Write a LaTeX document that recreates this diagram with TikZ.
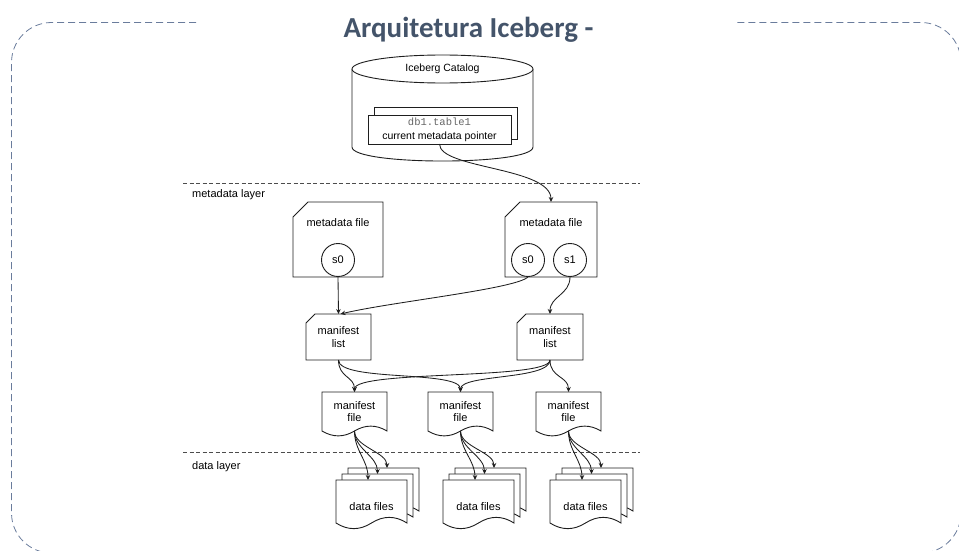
\documentclass[tikz,border=0pt]{standalone}
\usepackage{fontspec}
\setmainfont{Liberation Sans}
\newfontfamily\titlefont{Carlito}
\newfontfamily\codefont{Liberation Mono}
\usetikzlibrary{arrows.meta,calc}
\definecolor{titleblue}{HTML}{44546A}
\definecolor{framecol}{HTML}{6A7C9C}
\definecolor{inkcol}{HTML}{1E1E1E}
\tikzset{
  boxarea/.style={rectangle, inner sep=0pt, outer sep=0pt, align=center, font=\fontsize{11}{12.5}\selectfont},
  shp/.style={draw=inkcol, line width=0.9pt, fill=white},
  snap/.style={circle, draw=inkcol, line width=0.9pt, fill=white, minimum size=33pt, inner sep=0pt, font=\fontsize{11}{12.5}\selectfont},
  conn/.style={draw=inkcol, line width=0.85pt, -{Stealth[length=5pt,width=4.5pt]}},
  sep/.style={draw=gray!60!black, line width=0.9pt, dash pattern=on 4pt off 2.5pt},
  lbl/.style={inner sep=0pt, anchor=west, font=\fontsize{11}{12.5}\selectfont},
}
\newcommand{\cardshape}[2]{\draw[shp] ([xshift=#2pt]#1.north west) -- (#1.north east) -- (#1.south east) -- (#1.south west) -- ([yshift=-#2pt]#1.north west) -- cycle;}
\newcommand{\docshape}[2]{\draw[shp] (#1.north west) -- (#1.north east) -- (#1.south east)
  .. controls ($(#1.south east)!0.333!(#1.south)+(0,-#2)$) and ($(#1.south east)!0.667!(#1.south)+(0,-#2)$) .. (#1.south)
  .. controls ($(#1.south)!0.333!(#1.south west)+(0,#2)$) and ($(#1.south)!0.667!(#1.south west)+(0,#2)$) .. (#1.south west) -- cycle;}
\begin{document}
\begin{tikzpicture}[x=1pt,y=-1pt]
\useasboundingbox (0,0) rectangle (959,551);
% frame
\draw[framecol, line width=0.8pt, dash pattern=on 7pt off 4pt, rounded corners=40pt]
  (196,22.5) -- (11.5,22.5) -- (11.5,553) -- (961,553) -- (961,22.5) -- (735,22.5);
\node[anchor=base, text=titleblue, font=\titlefont\bfseries\fontsize{29}{32}\selectfont, inner sep=0pt] (title) at (468.5,38) {Arquitetura Iceberg -};
% catalog cylinder
\node[boxarea, minimum width=181pt, minimum height=106pt] (cat) at (442.5,108) {};
\draw[shp] (cat.west |- 0,69) -- (cat.west |- 0,147) .. controls +(0,18.7) and +(0,18.7) .. (cat.east |- 0,147) -- (cat.east |- 0,69);
\draw[shp] (442.5,69) ellipse [x radius=90.5, y radius=14];
\node[inner sep=0pt, font=\fontsize{10.5}{12}\selectfont] (catt) at (442.5,69) {Iceberg Catalog};
\node[boxarea, minimum width=143pt, minimum height=32pt] (ptrb) at (445.5,123) {};
\draw[shp] (ptrb.north west) rectangle (ptrb.south east);
\node[boxarea, minimum width=143pt, minimum height=29pt, fill=white, draw=inkcol, line width=0.9pt, font=\fontsize{10.5}{14}\selectfont] (ptr) at (439.5,129.5) {{\codefont\color{gray!80!black}db1.table1}\\current metadata pointer};
% separators
\coordinate (s1a) at (183,183); \coordinate (s1b) at (640,183);
\coordinate (s2a) at (183,452); \coordinate (s2b) at (640,452);
\draw[sep] (s1a) -- (s1b);
\draw[sep] (s2a) -- (s2b);
\node[lbl] (mdl) at (192,195) {metadata layer};
\node[lbl] (dl) at (192,467) {data layer};
% metadata files
\node[boxarea, minimum width=90pt, minimum height=75pt] (md1) at (338,239.5) {};
\node[boxarea, minimum width=92pt, minimum height=75pt] (md2) at (551,239.5) {};
\cardshape{md1}{15}
\cardshape{md2}{15}
\node[inner sep=0pt, font=\fontsize{11}{12.5}\selectfont] (md1t) at (338,223) {metadata file};
\node[inner sep=0pt, font=\fontsize{11}{12.5}\selectfont] (md2t) at (551,223) {metadata file};
\node[snap] (m1s0) at (338,260) {s0};
\node[snap] (m2s0) at (528,260) {s0};
\node[snap] (m2s1) at (570,260) {s1};
% manifest lists
\node[boxarea, minimum width=65pt, minimum height=46pt] (ml1) at (338.5,337) {};
\node[boxarea, minimum width=66pt, minimum height=46pt] (ml2) at (550,337) {};
\cardshape{ml1}{9}
\cardshape{ml2}{9}
\node[boxarea] (ml1t) at (ml1) {manifest\\list};
\node[boxarea] (ml2t) at (ml2) {manifest\\list};
% manifest files
\foreach \n/\x in {mf1/354.5, mf2/460.5, mf3/568.5}{
  \node[boxarea, minimum width=65pt, minimum height=39pt] (\n) at (\x,411.5) {};
  \docshape{\n}{6.5}
  \node[boxarea] (\n t) at (\x,411.5) {manifest\\file};
}
% data files
\foreach \k/\x in {1/371.5, 2/478.5, 3/585.5}{
  \node[boxarea, minimum width=71pt, minimum height=43pt] (df\k a) at (\x+12,489.5) {};
  \node[boxarea, minimum width=71pt, minimum height=43pt] (df\k b) at (\x+6,495.5) {};
  \node[boxarea, minimum width=71pt, minimum height=43pt] (df\k c) at (\x,501.5) {};
  \docshape{df\k a}{7.5}
  \docshape{df\k b}{7.5}
  \docshape{df\k c}{7.5}
  \node[boxarea] (df\k t) at (\x,507) {data files};
}
% connectors
\draw[conn] (ptr.south) .. controls +(0,25) and +(0,-35) .. (md2.north);
\draw[conn] (m1s0.south) -- (ml1.north);
\draw[conn] (m2s0.south) .. controls +(-12,12) and +(50,-12) .. ([xshift=2pt]ml1.north);
\draw[conn] (m2s1.south) .. controls +(0,18) and +(0,-18) .. (ml2.north);
\draw[conn] (ml1.south) .. controls +(0,18) and +(0,-16) .. (mf1.north);
\draw[conn] (ml1.south) .. controls +(0,22) and +(0,-22) .. (mf2.north);
\draw[conn] (ml2.south) .. controls +(0,20) and +(0,-22) .. (mf1.north);
\draw[conn] (ml2.south) .. controls +(0,20) and +(0,-18) .. (mf2.north);
\draw[conn] (ml2.south) .. controls +(0,18) and +(0,-16) .. (mf3.north);
\foreach \k in {1,2,3}{
  \draw[conn] (mf\k.south) .. controls +(0,20) and +(0,-20) .. ([xshift=-3.5pt]df\k c.north);
  \draw[conn] (mf\k.south) .. controls +(0,18) and +(0,-18) .. ([xshift=0pt]df\k b.north);
  \draw[conn] (mf\k.south) .. controls +(0,16) and +(0,-16) .. ([xshift=3.5pt]df\k a.north);
}
\end{tikzpicture}
\end{document}
